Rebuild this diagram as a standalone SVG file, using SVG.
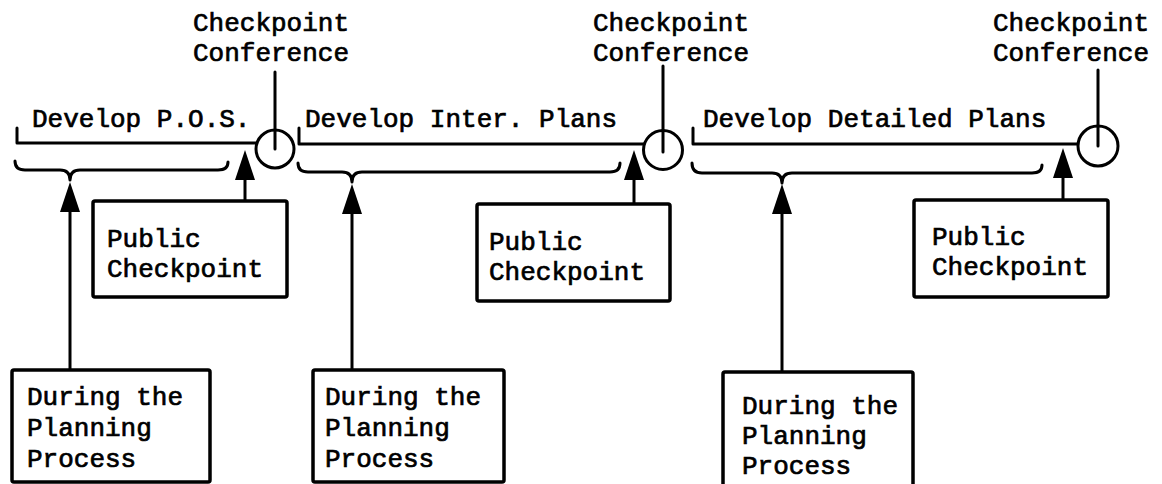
<svg xmlns="http://www.w3.org/2000/svg" width="1162" height="484" viewBox="0 0 1162 484">
<defs>
<style>
text{font-family:"Liberation Mono","DejaVu Sans Mono",monospace;font-size:26px;fill:#000;stroke:#000;stroke-width:0.7}
.ln{fill:none;stroke:#000;stroke-width:3;stroke-linecap:round;stroke-linejoin:round}
.box{fill:#fff;stroke:#000;stroke-width:3.5}
.circ{fill:#fff;stroke:#000;stroke-width:3}
.arr{fill:none;stroke:#000;stroke-width:3;marker-end:url(#ah)}
</style>
<marker id="ah" viewBox="0 0 30 20" refX="15" refY="10" markerWidth="30" markerHeight="20" markerUnits="userSpaceOnUse" orient="auto">
<path d="M0,0 L30,10 L0,20 z" fill="#000"/>
</marker>
</defs>
<rect width="1162" height="484" fill="#fff"/>

<g id="connectors">
<path class="ln" d="M17,128 L17,143 L257,143"/>
<path class="ln" d="M299,128 L299,144 L644,144"/>
<path class="ln" d="M693,128 L693,144 L1078,144"/>
<line class="ln" x1="275" y1="72" x2="275" y2="149"/>
<line class="ln" x1="663" y1="66" x2="663" y2="152"/>
<line class="ln" x1="1098" y1="70" x2="1098" y2="146"/>
<path class="ln" d="M15,161 Q15,170 25,170 L60,170 Q70,170 70,180 Q70,170 80,170 L218,170 Q228,170 228,162"/>
<path class="ln" d="M298,163 Q298,172 308,172 L342,172 Q352,172 352,182 Q352,172 362,172 L610,172 Q620,172 620,163"/>
<path class="ln" d="M692,163 Q692,173 702,173 L772,173 Q782,173 782,183 Q782,173 792,173 L1032,173 Q1042,173 1042,165"/>
<line class="arr" x1="245" y1="201" x2="245" y2="165"/>
<line class="arr" x1="634" y1="204" x2="634" y2="165"/>
<line class="arr" x1="1063" y1="200" x2="1063" y2="163"/>
<line class="arr" x1="70" y1="370" x2="70" y2="197"/>
<line class="arr" x1="352" y1="370" x2="352" y2="199"/>
<line class="arr" x1="782" y1="372" x2="782" y2="199"/>
</g>

<g id="cc1">
<circle class="circ" cx="275" cy="149" r="19"/>
<line class="ln" x1="275" y1="130" x2="275" y2="149"/>
<text x="193" y="31">Checkpoint</text>
<text x="193" y="61">Conference</text>
</g>
<g id="cc2">
<circle class="circ" cx="663" cy="150" r="19.5"/>
<line class="ln" x1="663" y1="131" x2="663" y2="152"/>
<text x="593" y="31">Checkpoint</text>
<text x="593" y="61">Conference</text>
</g>
<g id="cc3">
<circle class="circ" cx="1098" cy="146" r="20"/>
<line class="ln" x1="1098" y1="126" x2="1098" y2="146"/>
<text x="993" y="31">Checkpoint</text>
<text x="993" y="61">Conference</text>
</g>

<g id="phase1"><text x="32" y="127">Develop P.O.S.</text></g>
<g id="phase2"><text x="305" y="127">Develop Inter. Plans</text></g>
<g id="phase3"><text x="703" y="127">Develop Detailed Plans</text></g>

<g id="pc1">
<rect class="box" x="93" y="201" width="194" height="96" rx="2"/>
<text x="107" y="247">Public</text>
<text x="107" y="277">Checkpoint</text>
</g>
<g id="pc2">
<rect class="box" x="477" y="204" width="193" height="97" rx="2"/>
<text x="489" y="250">Public</text>
<text x="489" y="280">Checkpoint</text>
</g>
<g id="pc3">
<rect class="box" x="914" y="200" width="194" height="97" rx="2"/>
<text x="932" y="245">Public</text>
<text x="932" y="275">Checkpoint</text>
</g>

<g id="pp1">
<rect class="box" x="12" y="370" width="198" height="112" rx="2"/>
<text x="27" y="405">During the</text>
<text x="27" y="436">Planning</text>
<text x="27" y="467">Process</text>
</g>
<g id="pp2">
<rect class="box" x="313" y="370" width="191" height="112" rx="2"/>
<text x="325" y="405">During the</text>
<text x="325" y="436">Planning</text>
<text x="325" y="467">Process</text>
</g>
<g id="pp3">
<rect class="box" x="723" y="372" width="190" height="114" rx="2"/>
<text x="742" y="414">During the</text>
<text x="742" y="444">Planning</text>
<text x="742" y="474">Process</text>
</g>
</svg>
